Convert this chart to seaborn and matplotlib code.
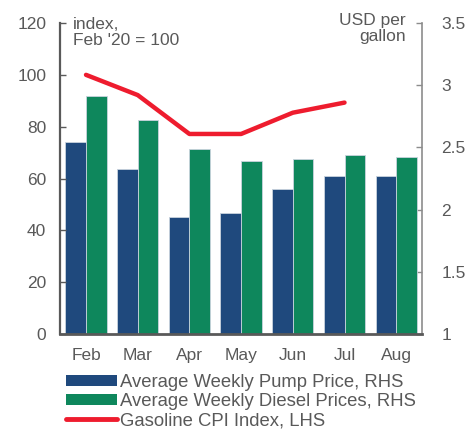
import matplotlib
matplotlib.use("Agg")
import matplotlib.pyplot as plt
import seaborn as sns
import numpy as np
import pandas as pd
from matplotlib.patches import Patch
from matplotlib.lines import Line2D

months = ["Feb", "Mar", "Apr", "May", "Jun", "Jul", "Aug"]
pump_price = [2.54, 2.33, 1.94, 1.97, 2.17, 2.27, 2.27]
diesel_price = [2.91, 2.72, 2.49, 2.39, 2.41, 2.44, 2.42]
cpi_months = ["Feb", "Mar", "Apr", "May", "Jun", "Jul"]
cpi_index = [100, 92.2, 77.2, 77.2, 85.4, 89.3]

left_ticks = [0, 20, 40, 60, 80, 100, 120]
right_ticks = [1, 1.5, 2, 2.5, 3, 3.5]
right_ticklabels = ["1", "1.5", "2", "2.5", "3", "3.5"]

s_pump = "Average Weekly Pump Price, RHS"
s_diesel = "Average Weekly Diesel Prices, RHS"
s_cpi = "Gasoline CPI Index, LHS"

C_PUMP = "#1f497d"
C_DIESEL = "#0e875c"
C_RED = "#ee1c2e"
C_TXT = "#595959"
C_AX = "#595959"

sns.set_theme(style="white")
plt.rcParams["font.family"] = ["Liberation Sans", "DejaVu Sans"]
FS = 12.5

fig = plt.figure(figsize=(4.7, 4.3), dpi=100)
ax = fig.add_axes([0.128, 0.223, 0.77, 0.7235])
ax2 = ax.twinx()

bars = pd.DataFrame({
    "month": months * 2,
    "price": pump_price + diesel_price,
    "series": [s_pump] * len(months) + [s_diesel] * len(months),
})
sns.barplot(data=bars, x="month", y="price", hue="series", order=months,
            hue_order=[s_pump, s_diesel], palette=[C_PUMP, C_DIESEL],
            saturation=1, width=0.8, ax=ax2, legend=False,
            edgecolor="#c9d3de", linewidth=0.6)

xpos = [months.index(m) for m in cpi_months]
line_df = pd.DataFrame({"x": xpos, "cpi": cpi_index})
sns.lineplot(data=line_df, x="x", y="cpi", ax=ax, color=C_RED, lw=3.2,
             solid_capstyle="round")

ax.set_zorder(ax2.get_zorder() + 1)
ax.patch.set_visible(False)

ax.set_xlim(-0.5, len(months) - 0.5)
ax2.set_xlim(-0.5, len(months) - 0.5)
ax.set_ylim(0, 120)
ax2.set_ylim(1, 3.5)
ax.set_yticks(left_ticks)
ax.set_yticklabels([str(t) for t in left_ticks])
ax2.set_yticks(right_ticks)
ax2.set_yticklabels(right_ticklabels)

ax.set_xticks(np.arange(len(months)))
ax.set_xticklabels(months)
ax.set_xticks(np.arange(len(months) + 1) - 0.5, minor=True)
ax.tick_params(axis="x", which="major", length=0, labelsize=FS, labelcolor=C_TXT, pad=10)
ax.tick_params(axis="x", which="minor", length=5, width=1.2, color=C_AX, direction="out")
ax2.tick_params(axis="x", which="both", length=0, labelbottom=False)
ax.tick_params(axis="y", length=4, width=1, color=C_AX, direction="in",
               labelsize=FS, labelcolor=C_TXT, pad=10)
ax2.tick_params(axis="y", length=4, width=1, color="#8c8c8c", direction="in",
                labelsize=FS, labelcolor=C_TXT, pad=14)
ax.set_xlabel("")
ax.set_ylabel("")
ax2.set_xlabel("")
ax2.set_ylabel("")

for a in (ax, ax2):
    for sp in a.spines.values():
        sp.set_visible(False)
ax.spines["left"].set_visible(True)
ax.spines["left"].set_color(C_AX)
ax.spines["left"].set_linewidth(1.6)
ax.spines["bottom"].set_visible(True)
ax.spines["bottom"].set_color(C_AX)
ax.spines["bottom"].set_linewidth(2)
ax2.spines["right"].set_visible(True)
ax2.spines["right"].set_color("#8c8c8c")
ax2.spines["right"].set_linewidth(1.2)
ax.grid(False)
ax2.grid(False)

fig.text(73 / 470, 1 - 17 / 430, "index,\nFeb '20 = 100", ha="left", va="top",
         fontsize=FS, color=C_TXT, linespacing=1.12)
fig.text(406 / 470, 1 - 13 / 430, "USD per\ngallon", ha="right", va="top",
         fontsize=FS, color=C_TXT, linespacing=1.12, multialignment="right")

handles = [
    Patch(facecolor=C_PUMP, edgecolor="none"),
    Patch(facecolor=C_DIESEL, edgecolor="none"),
    Line2D([0], [0], color=C_RED, lw=3.5, solid_capstyle="round"),
]
LFS = 13.3
leg = fig.legend(handles, [s_pump, s_diesel, s_cpi], loc="upper left",
                 bbox_to_anchor=(66 / 470, 1 - 374 / 430), frameon=False,
                 fontsize=LFS, handlelength=2.75, handleheight=0.55,
                 handletextpad=0.15, labelspacing=0.12, borderaxespad=0,
                 borderpad=0)
for t in leg.get_texts():
    t.set_color(C_TXT)

fig.savefig("out.png", dpi=100)
